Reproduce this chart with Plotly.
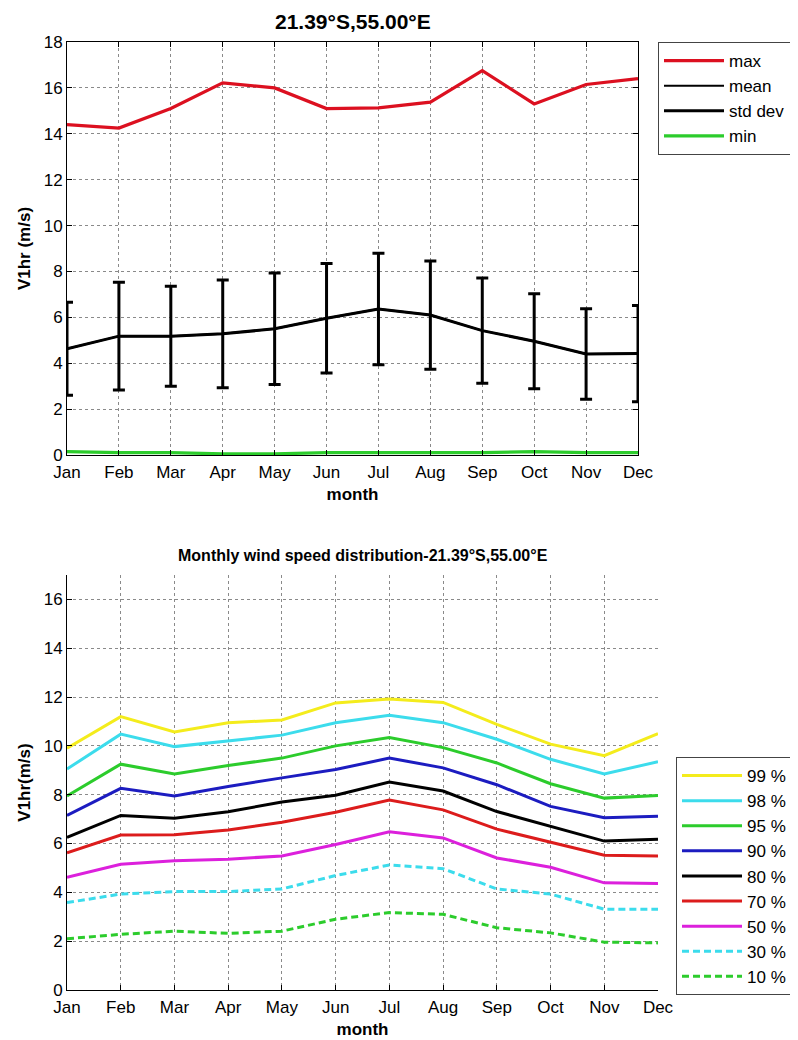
import plotly.graph_objects as go

months = ["Jan", "Feb", "Mar", "Apr", "May", "Jun", "Jul", "Aug", "Sep", "Oct", "Nov", "Dec"]

# Top chart
v_max = [14.4, 14.25, 15.1, 16.22, 16.0, 15.1, 15.13, 15.38, 16.75, 15.3, 16.15, 16.4]
v_mean = [4.63, 5.18, 5.18, 5.28, 5.5, 5.96, 6.36, 6.1, 5.42, 4.96, 4.4, 4.42]
v_std = [2.03, 2.35, 2.18, 2.35, 2.43, 2.39, 2.43, 2.36, 2.29, 2.07, 1.97, 2.1]
v_min = [0.15, 0.1, 0.1, 0.05, 0.05, 0.1, 0.1, 0.1, 0.1, 0.15, 0.1, 0.1]

# Bottom chart (percentiles)
p99 = [9.9, 11.2, 10.57, 10.95, 11.06, 11.76, 11.92, 11.78, 10.88, 10.07, 9.6, 10.5]
p98 = [9.05, 10.48, 9.97, 10.2, 10.44, 10.95, 11.25, 10.95, 10.27, 9.45, 8.85, 9.35]
p95 = [7.95, 9.25, 8.85, 9.2, 9.5, 10.0, 10.34, 9.93, 9.3, 8.45, 7.86, 7.97]
p90 = [7.15, 8.26, 7.95, 8.34, 8.69, 9.03, 9.5, 9.1, 8.41, 7.52, 7.06, 7.12]
p80 = [6.25, 7.15, 7.04, 7.3, 7.7, 7.98, 8.52, 8.15, 7.31, 6.69, 6.1, 6.18]
p70 = [5.62, 6.35, 6.36, 6.55, 6.87, 7.28, 7.78, 7.38, 6.59, 6.07, 5.52, 5.49]
p50 = [4.62, 5.15, 5.29, 5.36, 5.49, 5.96, 6.48, 6.23, 5.41, 5.03, 4.39, 4.36]
p30 = [3.58, 3.93, 4.03, 4.03, 4.14, 4.69, 5.12, 4.97, 4.14, 3.93, 3.31, 3.31]
p10 = [2.1, 2.28, 2.41, 2.32, 2.41, 2.9, 3.17, 3.1, 2.55, 2.34, 1.96, 1.93]

pct_names = ["99 %", "98 %", "95 %", "90 %", "80 %", "70 %", "50 %", "30 %", "10 %"]
pct_values = [p99, p98, p95, p90, p80, p70, p50, p30, p10]
pct_colors = ["#f4ec1c", "#3cdcec", "#2ccc2c", "#1c1cc0", "#000000", "#dc1c1c", "#dc20dc", "#3cdcec", "#2ccc2c"]
pct_dash = ["solid"] * 7 + ["7px,4px", "7px,4px"]

FONT = "Liberation Sans, Arial, Helvetica, sans-serif"

# The page body adds an 8px offset; target coordinates are given in window pixels.
OFF = 8
W, H = 798 - OFF, 1040 - OFF
ML, MR, MT, MB = 67 - OFF, 798 - 658, 42 - OFF, 1040 - 990
PW, PH = W - ML - MR, H - MT - MB


def px(xp):
    return (xp - OFF - ML) / PW


def py(yp):
    return (H - MB - (yp - OFF)) / PH


fig = go.Figure()

top_series = [
    ("max", v_max, "#dc1020", 3.2),
    ("mean", v_mean, "#000000", 2.0),
]
for name, vals, col, w in top_series:
    fig.add_trace(go.Scatter(x=months, y=vals, name=name, mode="lines",
                             line=dict(color=col, width=w), legend="legend",
                             xaxis="x", yaxis="y"))
fig.add_trace(go.Scatter(x=months, y=v_mean, name="std dev", mode="lines",
                         line=dict(color="#000000", width=3),
                         error_y=dict(type="data", array=v_std, visible=True,
                                      color="#000000", thickness=3, width=6),
                         legend="legend", xaxis="x", yaxis="y"))
fig.add_trace(go.Scatter(x=months, y=v_min, name="min", mode="lines",
                         line=dict(color="#2ccc2c", width=3.2), legend="legend",
                         xaxis="x", yaxis="y"))

for name, vals, col, dash in zip(pct_names, pct_values, pct_colors, pct_dash):
    fig.add_trace(go.Scatter(x=months, y=vals, name=name, mode="lines",
                             line=dict(color=col, width=3, dash=dash),
                             legend="legend2", xaxis="x2", yaxis="y2"))

grid = dict(showgrid=True, gridcolor="#8a8a8a", griddash="dot", gridwidth=1)
tickfont = dict(family=FONT, size=17, color="#000")
titlefont = dict(family=FONT, size=17, color="#000", weight="bold")
common = dict(ticks="inside", ticklen=5, tickcolor="#000", showline=True,
              linecolor="#000", linewidth=1, tickfont=tickfont, automargin=False)

fig.update_layout(
    width=W, height=H,
    margin=dict(l=ML, r=MR, t=MT, b=MB, autoexpand=False),
    paper_bgcolor="white", plot_bgcolor="white",
    font=dict(family=FONT, color="#000"),
    xaxis=dict(domain=[0, px(638)], anchor="y", type="category",
               categoryorder="array", categoryarray=months, range=[0, 11],
               mirror="ticks", ticklabelstandoff=2,
               title=dict(text="month", font=titlefont, standoff=6), **common, **grid),
    yaxis=dict(domain=[py(455), py(42)], anchor="x", range=[0, 18],
               tickvals=list(range(0, 19, 2)), mirror="ticks",
               title=dict(text="V1hr (m/s)", font=titlefont, standoff=8), **common, **grid),
    xaxis2=dict(domain=[0, 1], anchor="y2", type="category",
                categoryorder="array", categoryarray=months, range=[0, 11],
                ticklabelstandoff=2,
                title=dict(text="month", font=titlefont, standoff=6), **common, **grid),
    yaxis2=dict(domain=[0, py(575)], anchor="x2", range=[0, 17],
                tickvals=list(range(0, 17, 2)),
                title=dict(text="V1hr(m/s)", font=titlefont, standoff=8), **common, **grid),
    legend=dict(x=px(658), y=py(42), xanchor="left", yanchor="top",
                bgcolor="white", bordercolor="#444", borderwidth=1,
                font=dict(family=FONT, size=17, color="#000"),
                traceorder="normal", itemwidth=60),
    legend2=dict(x=px(676), y=py(757), xanchor="left", yanchor="top",
                 bgcolor="white", bordercolor="#444", borderwidth=1,
                 font=dict(family=FONT, size=17, color="#000"),
                 traceorder="normal", itemwidth=60),
    annotations=[
        dict(text="<b>21.39°S,55.00°E</b>", x=px((67 + 638) / 2), y=py(8),
             xref="paper", yref="paper", xanchor="center", yanchor="top",
             showarrow=False, font=dict(family=FONT, size=21, color="#000")),
        dict(text="<b>Monthly wind speed distribution-21.39°S,55.00°E</b>",
             x=px((67 + 658) / 2), y=py(555), xref="paper", yref="paper",
             xanchor="center", yanchor="middle", showarrow=False,
             font=dict(family=FONT, size=16, color="#000")),
    ],
)

fig.write_html("out.html")
